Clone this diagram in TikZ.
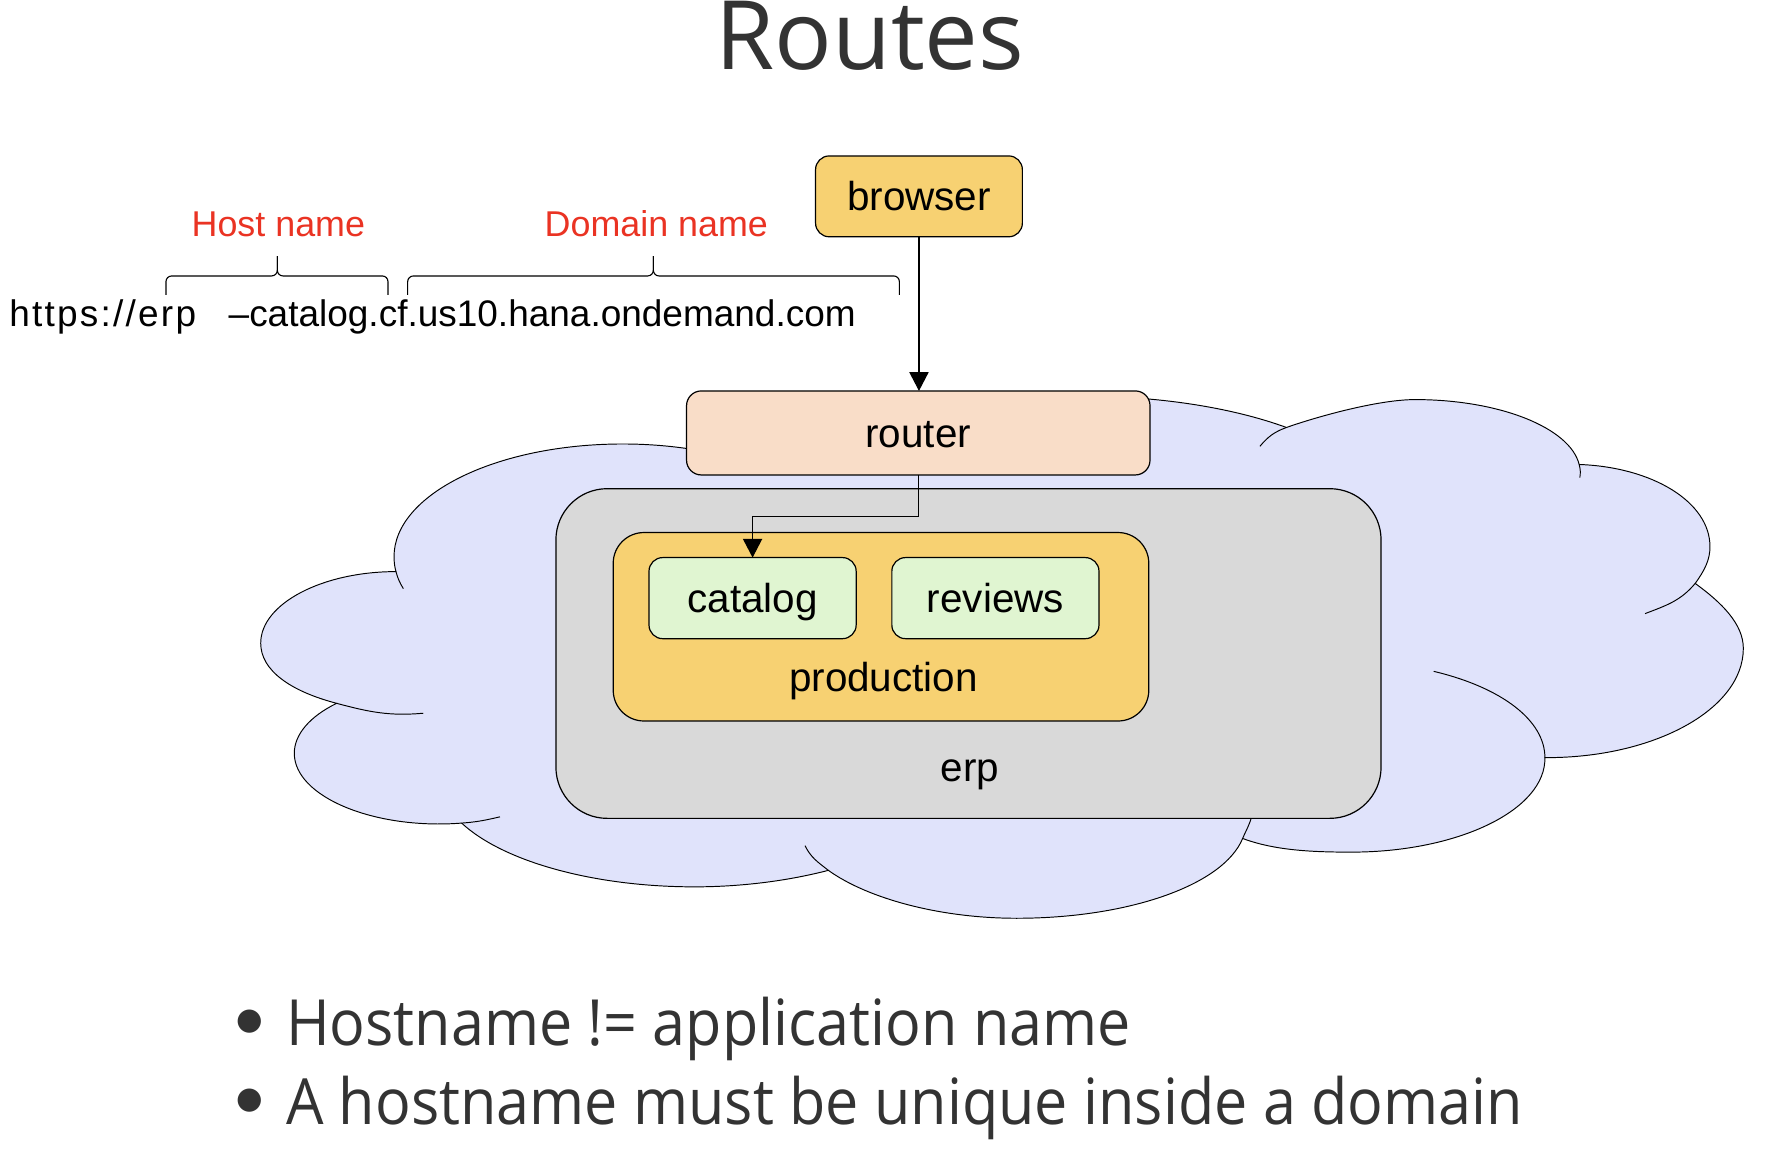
\documentclass[tikz,border=0pt]{standalone}
\usepackage{fontspec}
\setmainfont{Liberation Sans}
\newfontfamily\titlefont{Open Sans}
\newfontfamily\bulletfont[FakeStretch=0.93]{Open Sans}
\newfontfamily\dotfont{DejaVu Sans}
\newfontfamily\urlwide[LetterSpace=6]{Liberation Sans}
\usetikzlibrary{arrows.meta}
\definecolor{cloudc}{RGB}{224,227,251}
\definecolor{yellowc}{RGB}{247,209,114}
\definecolor{peachc}{RGB}{249,221,200}
\definecolor{greyc}{RGB}{217,217,217}
\definecolor{greenc}{RGB}{224,245,209}
\definecolor{redc}{RGB}{234,51,35}
\definecolor{darkc}{RGB}{51,51,51}
\begin{document}
\begin{tikzpicture}[x=0.025cm, y=0.025cm,
  box/.style={draw=black, line width=0.75pt, rectangle, inner sep=0pt, outer sep=0pt},
  boxlabel/.style={font=\fontsize{25.25pt}{30pt}\selectfont, text height=18.2pt, text depth=0pt},
  plainlabel/.style={font=\fontsize{25.25pt}{30pt}\selectfont, inner sep=0pt},
  redlabel/.style={font=\fontsize{22.4pt}{27pt}\selectfont, text=redc, inner sep=0pt},
  urltext/.style={font=\fontsize{23.1pt}{28pt}\selectfont, inner sep=0pt},
  bullettext/.style={font=\bulletfont\fontsize{39.8pt}{48pt}\selectfont, text=darkc, inner sep=0pt},
  bulletdot/.style={font=\dotfont\fontsize{19pt}{22pt}\selectfont, text=darkc, inner sep=0pt},
  cloudline/.style={draw=black, line width=0.6pt},
  bracket/.style={draw=black, line width=0.7pt, rounded corners=0.125cm},
  conn/.style={draw=black, line width=0.7pt, -{Triangle[length=11.7pt,width=12pt]}}
]
\useasboundingbox (0,0) rectangle (1560,1010);

% cloud
\path[fill=cloudc, cloudline]
 (347.8,507.9)
 .. controls (346.6,512.2) and (346.1,516.6) .. (346.1,521)
 .. controls (346.1,575.7) and (436,620) .. (547,620)
 .. controls (582.3,620) and (616.9,615.4) .. (647.5,606.7)
 -- (820,648.3)
 .. controls (920.2,671) and (1046.4,665) .. (1130,634.5)
 .. controls (1155.7,643.6) and (1210.1,659) .. (1243,659)
 .. controls (1316.9,659) and (1379,634.4) .. (1387.1,602)
 .. controls (1451.6,599.7) and (1502,569) .. (1502,529.8)
 .. controls (1502,518.3) and (1497.5,509.3) .. (1489,497.5)
 .. controls (1512.4,480.6) and (1531.3,461.8) .. (1531.3,440.5)
 .. controls (1531.3,386.9) and (1452.7,344) .. (1357,344.5)
 .. controls (1358,298.9) and (1281.4,261.5) .. (1187,261.5)
 .. controls (1153,261.5) and (1119.7,262.9) .. (1091.5,273.5)
 .. controls (1074.6,232.4) and (990.9,203.4) .. (893,203.4)
 .. controls (824.6,203.4) and (761.3,221.2) .. (727.6,245.5)
 .. controls (692.3,236.3) and (651.4,231) .. (610,231)
 .. controls (522,231) and (442.2,253) .. (405.5,287)
 .. controls (328.3,281) and (258.5,310.3) .. (258.5,348.3)
 .. controls (258.5,364.7) and (271.9,380.6) .. (295.7,392.2)
 .. controls (254.9,402.9) and (229,421.2) .. (229,445)
 .. controls (229,479.8) and (283.2,507.9) .. (347.8,507.9)
 -- cycle;
% inner arcs of the cloud
\draw[cloudline] (347.8,507.9) to[out=-75,in=121] (354.3,492.9);
\draw[cloudline] (295.7,392.2) to[out=-15,in=185] (371.8,383.5);
\draw[cloudline] (405.5,287) to[out=4,in=193] (439.2,292.5);
\draw[cloudline] (727.6,245.5) to[out=142,in=-64] (707.1,267.2);
\draw[cloudline] (1091.5,273.5) to[out=67,in=255] (1099.5,293);
\draw[cloudline] (1357,344.5) .. controls (1357,377) and (1319.4,406) .. (1259.3,420.3);
\draw[cloudline] (1489,497.5) to[out=230,in=21] (1445,471);
\draw[cloudline] (1387.1,602) to[out=-76,in=81] (1387.7,590.5);
\draw[cloudline] (1130,634.5) to[out=200,in=50] (1106.7,618);

% boxes
\node[box, fill=greyc, rounded corners=1.125cm, minimum width=18.115cm, minimum height=7.2375cm] (erp) at (850.7,435.95) {};
\node[box, fill=yellowc, rounded corners=0.675cm, minimum width=11.7575cm, minimum height=4.1375cm] (prod) at (773.85,459.45) {};
\node[box, boxlabel, fill=greenc, rounded corners=0.3cm, minimum width=4.5475cm, minimum height=1.78cm] (catalog) at (661.05,484.6) {catalog};
\node[box, boxlabel, fill=greenc, rounded corners=0.3cm, minimum width=4.5475cm, minimum height=1.78cm] (reviews) at (874.35,484.6) {reviews};
\node[box, boxlabel, fill=peachc, rounded corners=0.325cm, minimum width=10.175cm, minimum height=1.845cm] (router) at (806.6,629.7) {router};
\node[box, boxlabel, fill=yellowc, rounded corners=0.3cm, minimum width=4.54cm, minimum height=1.775cm] (browser) at (807.2,837.5) {browser};

\node[plainlabel, anchor=base] (prodlabel) at (776,403) {production};
\node[plainlabel, anchor=base] (erplabel) at (852,323.4) {erp};

% connectors
\draw[conn] (browser.south) -- (browser.south |- router.north);
\coordinate (bend) at (661.05,556.2);
\draw[conn] (router.south) |- (bend) -- (catalog.north);

% url annotation
\node[redlabel, anchor=base] (hostlbl) at (244.5,802.1) {Host name};
\node[redlabel, anchor=base] (domlbl) at (576.5,802.1) {Domain name};
\draw[bracket] (145.8,751) |- (243.6,767.6) -- (243.6,785);
\draw[bracket] (243.6,785) -- (243.6,767.6) -| (340.8,751);
\draw[bracket] (358.1,751) |- (573.9,767.6) -- (573.9,785);
\draw[bracket] (573.9,785) -- (573.9,767.6) -| (790,751);
\node[urltext, font=\urlwide\fontsize{23.1pt}{28pt}\selectfont, anchor=base west] (url1) at (8,723) {https://erp};
\node[urltext, anchor=base west] (url2) at (200.6,723) {–catalog.cf.us10.hana.ondemand.com};

% title
\node[anchor=base, font=\titlefont\fontsize{59.8pt}{70pt}\selectfont, text=darkc, inner sep=0pt] (title) at (764,948.5) {Routes};

% bullets
\node[bulletdot, anchor=base] (dot1) at (219,106) {●};
\node[bullettext, anchor=base west] (line1) at (251,92) {Hostname != application name};
\node[bulletdot, anchor=base] (dot2) at (219,36) {●};
\node[bullettext, anchor=base west] (line2) at (251,22) {A hostname must be unique inside a domain};
\end{tikzpicture}
\end{document}
